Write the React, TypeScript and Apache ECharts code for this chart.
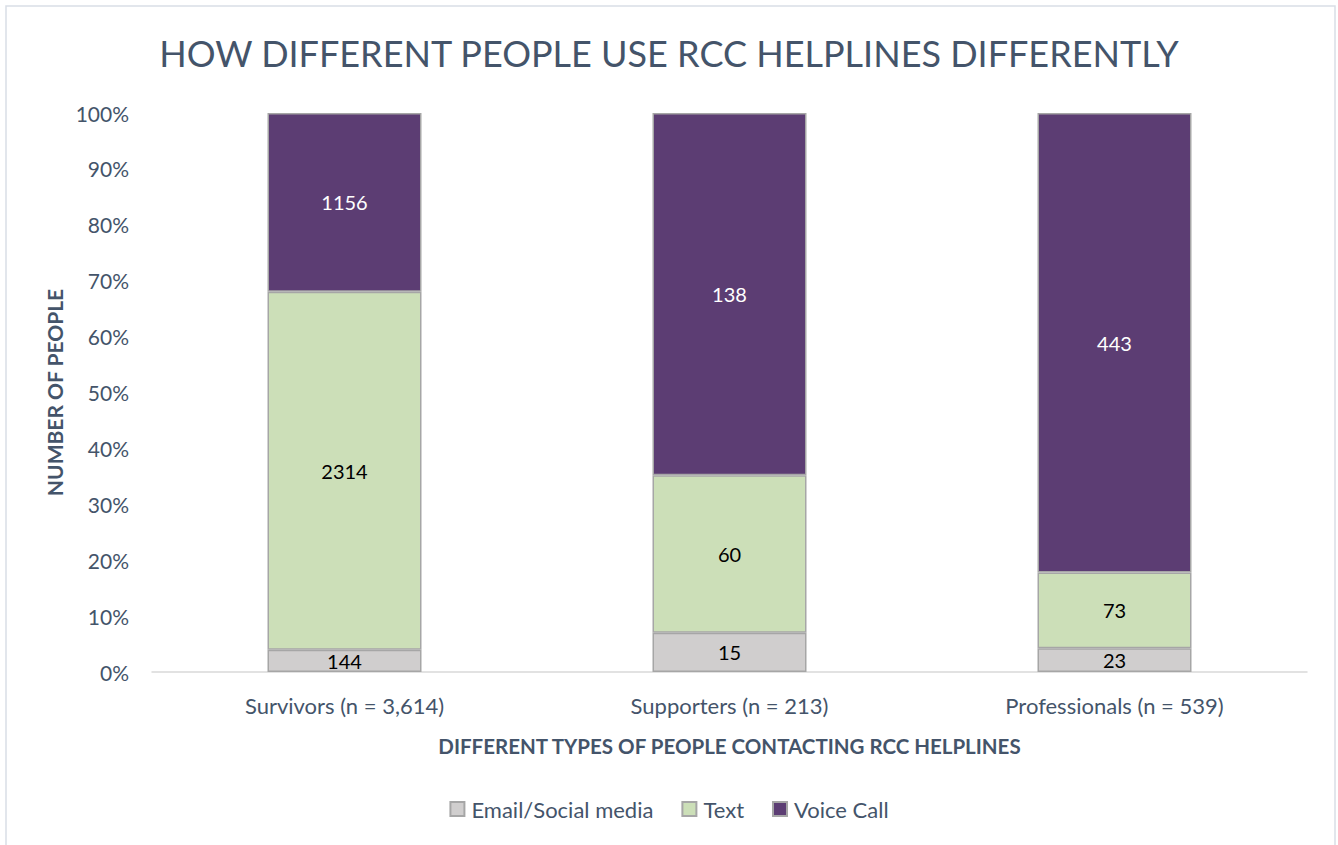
import React, { useEffect, useRef } from "react";
import * as echarts from "echarts";

const categories = ["Survivors (n = 3,614)", "Supporters (n = 213)", "Professionals (n = 539)"];
const emailCounts = [144, 15, 23];
const textCounts = [2314, 60, 73];
const voiceCounts = [1156, 138, 443];
const yTicks = ["0%", "10%", "20%", "30%", "40%", "50%", "60%", "70%", "80%", "90%", "100%"];

const FONT = "Lato";
const AXIS_COLOR = "#44546A";

export default function App() {
  const ref = useRef<HTMLDivElement>(null);
  useEffect(() => {
    if (!ref.current) return;
    const chart = echarts.init(ref.current, null, { renderer: "svg" });
    const totals = categories.map((_, i) => emailCounts[i] + textCounts[i] + voiceCounts[i]);
    const pct = (arr: number[]) => arr.map((v, i) => ({ value: (v / totals[i]) * 100, raw: v }));
    const mkSeries = (name: string, arr: number[], color: string, labelColor: string) => ({
      name,
      type: "bar",
      stack: "total",
      barWidth: "40%",
      data: pct(arr),
      itemStyle: { color, borderColor: "#A6A6A6", borderWidth: 1.5 },
      label: {
        show: true,
        position: "inside",
        color: labelColor,
        fontFamily: FONT,
        fontSize: 20,
        formatter: (p: any) => String(p.data.raw),
      },
    });
    chart.setOption({
      animation: false,
      backgroundColor: "#fff",
      title: {
        text: "HOW DIFFERENT PEOPLE USE RCC HELPLINES DIFFERENTLY",
        left: "center",
        top: 30,
        textStyle: { fontFamily: FONT, fontWeight: 400, fontSize: 36, color: AXIS_COLOR },
      },
      legend: {
        top: 793,
        left: "center",
        itemWidth: 14,
        itemHeight: 14,
        itemGap: 28,
        icon: "rect",
        textStyle: { fontFamily: FONT, fontSize: 22, color: AXIS_COLOR, padding: [0, 0, 0, 2] },
        data: ["Email/Social media", "Text", "Voice Call"],
      },
      grid: { left: 152, right: 31, top: 113, bottom: 173, containLabel: false },
      xAxis: {
        type: "category",
        data: categories,
        name: "DIFFERENT TYPES OF PEOPLE CONTACTING RCC HELPLINES",
        nameLocation: "middle",
        nameGap: 63,
        nameTextStyle: { fontFamily: FONT, fontWeight: "bold", fontSize: 20.5, color: AXIS_COLOR },
        axisLine: { lineStyle: { color: "#D9D9D9", width: 1.5 } },
        axisTick: { show: false },
        axisLabel: { fontFamily: FONT, fontSize: 22, color: AXIS_COLOR, margin: 22 },
      },
      yAxis: {
        type: "value",
        min: 0,
        max: 100,
        interval: 10,
        name: "NUMBER OF PEOPLE",
        nameLocation: "middle",
        nameGap: 86,
        nameRotate: 90,
        nameTextStyle: { fontFamily: FONT, fontWeight: "bold", fontSize: 21, color: AXIS_COLOR },
        splitLine: { show: false },
        axisLine: { show: false },
        axisTick: { show: false },
        axisLabel: {
          fontFamily: FONT,
          fontSize: 21,
          color: AXIS_COLOR,
          margin: 23,
          formatter: (v: number) => yTicks[Math.round(v / 10)],
        },
      },
      series: [
        mkSeries("Email/Social media", emailCounts, "#D0CECE", "#000"),
        mkSeries("Text", textCounts, "#CCDFB8", "#000"),
        mkSeries("Voice Call", voiceCounts, "#5C3D73", "#fff"),
      ],
      graphic: [
        {
          type: "rect",
          shape: { x: 6, y: 6, width: 1329, height: 850 },
          style: { fill: "none", stroke: "#D9DEE6", lineWidth: 1.5 },
          silent: true,
        },
      ],
    });
    return () => chart.dispose();
  }, []);
  return (
    <div
      ref={ref}
      style={{ position: "fixed", left: 0, top: 0, width: 1338, height: 845 }}
    />
  );
}
